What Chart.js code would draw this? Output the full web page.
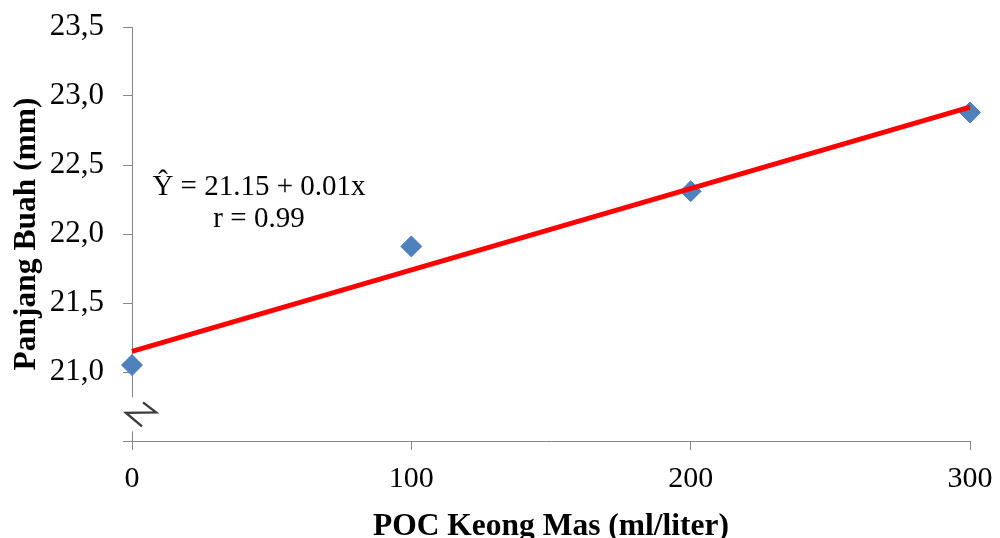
<!DOCTYPE html>
<html>
<head>
<meta charset="utf-8">
<script src="https://cdn.jsdelivr.net/npm/chart.js@4/dist/chart.umd.min.js"></script>
<style>
  html, body { margin: 0; padding: 0; background: #ffffff; }
  #wrap { width: 1000px; height: 538px; position: relative; }
</style>
</head>
<body>
<div id="wrap"><canvas id="chart"></canvas></div>
<script>
// POC dose (ml/liter) and measured fruit length (mm)
const doses = [0, 100, 200, 300];
const fruitLength = [21.05, 21.91, 22.31, 22.88];

// fitted regression line, end points at the first and last dose
const fitDoses = [0, 300];
const fitValues = [21.15, 22.92];

// axis ticks
const xTicks = [0, 100, 200, 300];
const xTickLabels = ['0', '100', '200', '300'];
const yTicks = [20.5, 21.0, 21.5, 22.0, 22.5, 23.0, 23.5];
const yTickLabels = ['', '21,0', '21,5', '22,0', '22,5', '23,0', '23,5'];

const xTitle = 'POC Keong Mas (ml/liter)';
const yTitle = 'Panjang Buah (mm)';
const equationLines = ['Ŷ = 21.15 + 0.01x', 'r = 0.99'];

const SERIF = '"Liberation Serif", "Times New Roman", serif';
const AXIS = '#868686';

// axis titles, regression text and the broken-axis mark
const decorations = {
  id: 'decorations',
  afterDraw(chart) {
    const ctx = chart.ctx;
    const xs = chart.scales.x, ys = chart.scales.y;
    ctx.save();

    // break on the y axis just above the origin
    const bx = xs.getPixelForValue(0);
    const by = ys.getPixelForValue(20.7);
    ctx.fillStyle = '#ffffff';
    ctx.fillRect(bx - 6, by - 16, 12, 34);
    ctx.strokeStyle = '#3c3c3c';
    ctx.lineWidth = 2.4;
    ctx.lineJoin = 'miter';
    ctx.beginPath();
    ctx.moveTo(bx + 11, by - 11);
    ctx.lineTo(bx + 24, by - 1);
    ctx.lineTo(bx - 6, by - 0.5);
    ctx.lineTo(bx + 10, by + 13);
    ctx.stroke();

    // regression equation
    ctx.fillStyle = '#000000';
    ctx.font = '29px ' + SERIF;
    ctx.textAlign = 'center';
    ctx.textBaseline = 'alphabetic';
    ctx.fillText(equationLines[0], 259, 195);
    ctx.fillText(equationLines[1], 259, 227);

    // axis titles
    ctx.font = 'bold 31.5px ' + SERIF;
    ctx.fillText(xTitle, (xs.left + xs.right) / 2, 535);
    ctx.translate(35, (ys.top + ys.bottom) / 2);
    ctx.rotate(-Math.PI / 2);
    ctx.fillText(yTitle, 0, 0);
    ctx.restore();
  }
};

new Chart(document.getElementById('chart'), {
  data: {
    datasets: [
      {
        type: 'line',
        label: 'Regresi',
        data: fitDoses.map((d, i) => ({ x: d, y: fitValues[i] })),
        borderColor: '#ff0000',
        borderWidth: 5,
        pointRadius: 0,
        fill: false,
        order: 0,
        clip: false
      },
      {
        type: 'scatter',
        label: 'Panjang Buah',
        data: doses.map((d, i) => ({ x: d, y: fruitLength[i] })),
        pointStyle: 'rectRot',
        pointRadius: 10.5,
        pointHoverRadius: 10.5,
        backgroundColor: '#4f81bd',
        borderColor: '#4a7ebb',
        borderWidth: 1,
        order: 1,
        clip: false
      }
    ]
  },
  options: {
    responsive: true,
    maintainAspectRatio: false,
    animation: false,
    events: [],
    layout: { padding: { left: 0, right: 30, top: 27, bottom: 0 } },
    plugins: {
      legend: { display: false },
      tooltip: { enabled: false }
    },
    scales: {
      x: {
        type: 'linear',
        min: 0,
        max: 300,
        afterBuildTicks(scale) { scale.ticks = xTicks.map(v => ({ value: v })); },
        afterFit(scale) {
          scale.height = 97;
          scale.paddingLeft = 0;
          scale.paddingRight = 0;
        },
        ticks: {
          callback: (v, i) => xTickLabels[i],
          color: '#000000',
          font: { family: SERIF, size: 30 },
          padding: 11,
          maxRotation: 0,
          autoSkip: false
        },
        grid: {
          drawOnChartArea: false,
          drawTicks: true,
          tickLength: 9,
          color: AXIS,
          lineWidth: 1
        },
        border: { display: true, color: AXIS, width: 1 }
      },
      y: {
        type: 'linear',
        min: 20.5,
        max: 23.5,
        afterBuildTicks(scale) { scale.ticks = yTicks.map(v => ({ value: v })); },
        afterFit(scale) {
          scale.width = 132;
          scale.paddingTop = 0;
          scale.paddingBottom = 0;
        },
        ticks: {
          callback: (v, i) => yTickLabels[i],
          color: '#000000',
          font: { family: SERIF, size: 31 },
          padding: 19,
          autoSkip: false
        },
        grid: {
          drawOnChartArea: false,
          drawTicks: true,
          tickLength: 9,
          color: AXIS,
          lineWidth: 1
        },
        border: { display: true, color: AXIS, width: 1 }
      }
    }
  },
  plugins: [decorations]
});
</script>
</body>
</html>
